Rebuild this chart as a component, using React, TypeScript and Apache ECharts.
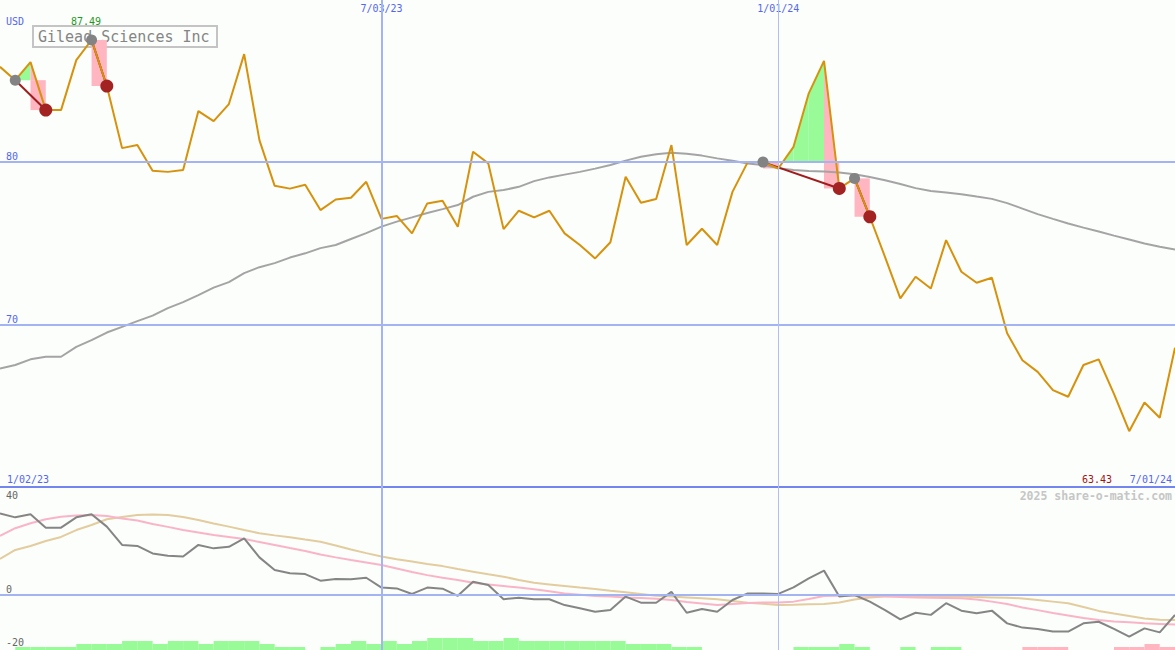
import { useEffect, useRef } from "react";
import * as echarts from "echarts";

// ---- data (weekly, 1/09/23 .. 7/01/24) ----
const price = [
  85.84, 85.02, 86.13, 83.18, 83.18, 86.25, 87.49, 84.66, 80.84, 81.03,
  79.45, 79.38, 79.49, 83.12, 82.5, 83.55, 86.62, 81.33, 78.52, 78.35,
  78.59, 77.03, 77.68, 77.79, 78.77, 76.49, 76.67, 75.6, 77.44, 77.6,
  76.0, 80.62, 79.9, 75.86, 76.99, 76.58, 76.99, 75.6, 74.88, 74.06,
  75.05, 79.08, 77.48, 77.71, 81.03, 74.88, 75.88, 74.88, 78.15, 79.98,
  79.98, 79.59, 80.92, 84.21, 86.21, 78.36, 78.98, 76.62, 74.14, 71.6,
  72.93, 72.21, 75.18, 73.24, 72.56, 72.87, 69.45, 67.8, 67.08, 65.96,
  65.55, 67.5, 67.85, 65.73, 63.43, 65.2, 64.26, 68.56,
];
const movingAvg = [
  67.29, 67.5, 67.85, 68.01, 68.01, 68.62, 69.03, 69.5, 69.85, 70.2,
  70.54, 71.0, 71.37, 71.8, 72.26, 72.6, 73.15, 73.52, 73.77, 74.11,
  74.37, 74.69, 74.88, 75.25, 75.61, 76.01, 76.32, 76.58, 76.85, 77.09,
  77.34, 77.85, 78.15, 78.26, 78.46, 78.81, 79.04, 79.21, 79.38, 79.58,
  79.8, 80.07, 80.31, 80.47, 80.55, 80.49, 80.38, 80.21, 80.06, 79.9,
  79.8, 79.61, 79.49, 79.43, 79.4, 79.34, 79.24, 79.06, 78.87, 78.63,
  78.38, 78.2, 78.11, 78.01, 77.86, 77.72, 77.46, 77.12, 76.78, 76.49,
  76.21, 75.95, 75.71, 75.46, 75.22, 74.97, 74.78, 74.61,
];
const momentum = [
  30.8, 29.3, 30.5, 25.4, 25.4, 29.3, 30.5, 25.8, 18.9, 18.5,
  15.7, 14.8, 14.5, 18.9, 17.6, 18.2, 21.4, 14.2, 9.4, 8.2,
  7.9, 5.4, 6.0, 5.9, 6.5, 2.8, 2.5, 0.4, 2.8, 2.4,
  -0.3, 5.0, 3.8, -1.6, -1.0, -1.6, -1.6, -3.8, -5.0, -6.3,
  -5.7, -0.6, -2.9, -2.9, 1.2, -6.7, -5.3, -6.3, -1.9, 0.6,
  0.6, 0.4, 2.9, 6.3, 9.2, -0.6, 0.0, -2.5, -5.7, -9.2,
  -6.7, -7.5, -3.1, -5.9, -6.9, -5.9, -10.7, -12.3, -12.8, -13.8,
  -13.8, -10.7, -10.1, -12.8, -15.7, -12.6, -14.1, -7.5,
];
const fastLine = [
  22.3, 25.2, 27.1, 28.6, 29.5, 30.0, 30.2, 29.8, 28.9, 28.1,
  26.8, 25.7, 24.5, 23.6, 22.6, 21.9, 21.1, 20.0, 18.9, 17.7,
  16.6, 15.3, 14.2, 13.2, 12.3, 11.3, 10.0, 8.7, 7.5, 6.5,
  5.7, 4.6, 4.0, 3.4, 2.8, 2.2, 1.4, 0.6, 0.1, -0.4,
  -0.6, -0.9, -1.1, -1.4, -1.9, -2.6, -3.2, -3.8, -3.4, -3.0,
  -2.8, -2.8, -2.5, -1.5, -0.4, -0.3, -0.3, -0.3, -0.5, -0.8,
  -0.9, -1.0, -1.1, -1.2, -1.7, -2.5, -3.4, -4.7, -5.7, -6.8,
  -7.7, -8.7, -9.4, -10.0, -10.3, -10.7, -10.9, -11.1,
];
const slowLine = [
  13.6, 17.0, 18.5, 20.4, 21.9, 24.5, 26.4, 28.6, 29.4, 30.2,
  30.4, 30.2, 29.4, 28.3, 27.0, 25.8, 24.5, 23.3, 22.5, 21.8,
  20.9, 20.1, 18.7, 17.2, 15.8, 14.5, 13.5, 12.6, 11.7, 10.9,
  9.8, 8.8, 7.8, 6.9, 5.7, 4.6, 4.0, 3.4, 2.8, 2.3,
  1.6, 1.0, 0.4, -0.3, -0.6, -0.9, -1.2, -1.6, -2.3, -2.9,
  -3.3, -3.8, -3.7, -3.5, -3.4, -2.8, -1.7, -0.9, -0.6, -0.5,
  -0.4, -0.4, -0.6, -0.6, -0.8, -0.9, -1.0, -1.3, -1.9, -2.5,
  -3.1, -4.5, -6.0, -7.0, -7.9, -8.9, -9.3, -9.4,
];
const histogram = [
  0, 1, 1, 1, 1, 2, 2, 2, 3, 3,
  2, 3, 3, 2, 3, 3, 3, 2, 1, 1,
  0, 1, 2, 3, 2, 3, 2, 3, 4, 4,
  4, 3, 3, 4, 3, 3, 3, 3, 3, 3,
  3, 2, 2, 2, 1, 1, 0, 0, 0, 0,
  0, 0, 1, 1, 1, 2, 1, 0, 0, 1,
  0, 1, 1, 0, 0, 0, 0, -1, -1, -1,
  0, 0, 0, -1, -1, -2, -1, 0,
];
const signalStart = [1, 6, 50, 56];
const signalEnd = [3, 7, 55, 57];
const dateTickIndex = [25, 51];
const dateTickLabels = ["7/03/23", "1/01/24"];
const rangeLabels = ["1/02/23", "7/01/24"];
const priceTicks = [70, 80];
const lowerTicks = [-20, 0, 40];
const titleText = "Gilead Sciences Inc";
const currency = "USD";
const credit = "2025 share-o-matic.com";

// ---- styles ----
const MONO = '"DejaVu Sans Mono", "Liberation Mono", monospace';
const BG = "#fbfefb";
const BLUE_TEXT = "#5566ee";
const GRID_BLUE = "#a4b3f2";
const DIVIDER = "#7385ee";
const GREEN = "#98fb98";
const PINK = "#ffb6c1";
const PRICE_COLOR = "#d6920c";
const MA_COLOR = "#a4a4a4";

export default function App() {
  const ref = useRef<HTMLDivElement>(null);

  useEffect(() => {
    const chart = echarts.init(ref.current!, null, { renderer: "svg" });
    const pairs = (arr: number[]) => arr.map((v, i) => [i, v]);
    const maxV = Math.max(...price);
    const minV = Math.min(...price);

    const fillSeries: any = {
      type: "custom",
      xAxisIndex: 0,
      yAxisIndex: 0,
      z: 1,
      silent: true,
      data: signalStart.map((s, k) => [s, price[s], signalEnd[k]]),
      encode: { x: 0, y: 1 },
      renderItem: (_p: any, api: any) => {
        const s = api.value(0);
        const e = api.value(2);
        const L = price[s];
        const children: any[] = [];
        const poly = (pts: number[][], color: string) =>
          children.push({
            type: "polygon",
            shape: { points: pts.map((p) => api.coord(p)) },
            style: { fill: color },
          });
        for (let i = s; i < e; i++) {
          const p0 = price[i];
          const p1 = price[i + 1];
          if (p1 > p0) {
            if (p0 >= L) poly([[i, L], [i, p0], [i + 1, p1], [i + 1, L]], GREEN);
            else if (p1 > L) {
              const t = (L - p0) / (p1 - p0);
              poly([[i + t, L], [i + 1, p1], [i + 1, L]], GREEN);
            }
          } else {
            if (p0 > L) {
              if (p1 >= L) poly([[i, L], [i, p0], [i + 1, p1], [i + 1, L]], PINK);
              else {
                const t = (p0 - L) / (p0 - p1);
                poly([[i, L], [i, p0], [i + t, L]], PINK);
              }
            }
            if (p1 < L) poly([[i, L], [i + 1, L], [i + 1, p1], [i, p1]], PINK);
          }
        }
        return { type: "group", children };
      },
    };

    const histSeries: any = {
      type: "custom",
      xAxisIndex: 1,
      yAxisIndex: 2,
      z: 1,
      silent: true,
      data: pairs(histogram),
      encode: { x: 0, y: 1 },
      renderItem: (_p: any, api: any) => {
        const i = api.value(0);
        const v = api.value(1);
        if (!v) return null;
        const a = api.coord([i, 0]);
        const b = api.coord([i + 1, Math.abs(v)]);
        return {
          type: "rect",
          shape: { x: a[0], y: b[1], width: b[0] - a[0], height: a[1] - b[1] },
          style: { fill: v > 0 ? GREEN : PINK },
        };
      },
    };

    const vLines = [
      { xAxis: dateTickIndex[0], lineStyle: { color: GRID_BLUE, width: 2, type: "solid" } },
      { xAxis: dateTickIndex[1], lineStyle: { color: "#b2bef2", width: 1, type: "solid" } },
    ];

    const signalLines = signalStart.map((s, k) => ({
      type: "line",
      xAxisIndex: 0,
      yAxisIndex: 0,
      z: 3,
      silent: true,
      symbol: "none",
      data: [
        [s, price[s]],
        [signalEnd[k], price[signalEnd[k]]],
      ],
      lineStyle: { color: "#a11c1c", width: 2 },
    }));

    const option: any = {
      animation: false,
      backgroundColor: BG,
      grid: [
        { left: 0, right: 0, top: 0, height: 487 },
        { left: 0, right: 0, top: 487, height: 163 },
      ],
      xAxis: [
        {
          type: "value",
          gridIndex: 0,
          min: 0,
          max: 77,
          position: "top",
          axisLine: { show: false },
          axisTick: { show: false },
          splitLine: { show: false },
          axisLabel: {
            inside: true,
            customValues: dateTickIndex,
            formatter: (v: number) => {
              const k = dateTickIndex.indexOf(v);
              return k >= 0 ? dateTickLabels[k] : "";
            },
            color: BLUE_TEXT,
            fontFamily: MONO,
            fontSize: 10,
            margin: 3,
          },
        },
        {
          type: "value",
          gridIndex: 1,
          min: 0,
          max: 77,
          position: "top",
          axisLine: { show: true, onZero: false, lineStyle: { color: DIVIDER, width: 2 } },
          axisTick: { show: false },
          splitLine: { show: false },
          axisLabel: { show: false },
        },
      ],
      yAxis: [
        {
          type: "value",
          gridIndex: 0,
          min: 60,
          max: 89.95,
          axisLine: { show: false },
          axisTick: { show: false },
          splitLine: { show: false },
          axisLabel: {
            inside: true,
            customValues: priceTicks,
            margin: 6,
            color: BLUE_TEXT,
            fontFamily: MONO,
            fontSize: 10,
            verticalAlign: "bottom",
          },
        },
        {
          type: "value",
          gridIndex: 1,
          min: -20.75,
          max: 40.75,
          axisLine: { show: false },
          axisTick: { show: false },
          splitLine: { show: false },
          axisLabel: {
            inside: true,
            customValues: lowerTicks,
            margin: 6,
            verticalAlign: "middle",
            formatter: (v: number) => (v === Math.max(...lowerTicks) ? `{t|${v}}` : `{n|${v}}`),
            rich: {
              n: { color: "#666", fontFamily: MONO, fontSize: 10, padding: [0, 0, 12, 0] },
              t: { color: "#666", fontFamily: MONO, fontSize: 10, padding: [13, 0, 0, 0] },
            },
          },
        },
        {
          type: "value",
          gridIndex: 1,
          min: 0,
          max: 54.33,
          show: false,
        },
      ],
      graphic: [
        {
          type: "rect",
          z: 0,
          shape: { x: 33, y: 26, width: 184, height: 21 },
          style: { fill: "none", stroke: "#c4c4c4", lineWidth: 2 },
        },
        {
          type: "text",
          z: 0,
          x: 38,
          y: 37,
          style: { text: titleText, fill: "#858585", font: `15px ${MONO}`, align: "left", verticalAlign: "middle" },
        },
        {
          type: "text",
          x: 6,
          y: 21,
          style: { text: currency, fill: BLUE_TEXT, font: `10px ${MONO}`, align: "left", verticalAlign: "middle" },
        },
        {
          type: "text",
          x: 71,
          y: 21,
          style: { text: maxV.toFixed(2), fill: "#1e9a1e", font: `10px ${MONO}`, align: "left", verticalAlign: "middle" },
        },
        {
          type: "text",
          x: 7,
          y: 479,
          style: { text: rangeLabels[0], fill: BLUE_TEXT, font: `10px ${MONO}`, align: "left", verticalAlign: "middle" },
        },
        {
          type: "text",
          x: 1172,
          y: 479,
          style: { text: rangeLabels[1], fill: BLUE_TEXT, font: `10px ${MONO}`, align: "right", verticalAlign: "middle" },
        },
        {
          type: "text",
          x: 1112,
          y: 479,
          style: { text: minV.toFixed(2), fill: "#a31313", font: `10px ${MONO}`, align: "right", verticalAlign: "middle" },
        },
        {
          type: "text",
          x: 1172,
          y: 496,
          style: { text: credit, fill: "#c6c6c6", font: `bold 11.5px ${MONO}`, align: "right", verticalAlign: "middle" },
        },
      ],
      series: [
        fillSeries,
        {
          type: "line",
          xAxisIndex: 0,
          yAxisIndex: 0,
          z: 2,
          silent: true,
          symbol: "none",
          data: pairs(movingAvg),
          lineStyle: { color: MA_COLOR, width: 2 },
          markLine: {
            silent: true,
            symbol: ["none", "none"],
            label: { show: false },
            data: [
              ...priceTicks.map((v) => ({ yAxis: v, lineStyle: { color: GRID_BLUE, width: 2, type: "solid" } })),
              ...vLines,
            ],
          },
        },
        ...signalLines,
        {
          type: "line",
          xAxisIndex: 0,
          yAxisIndex: 0,
          z: 4,
          silent: true,
          symbol: "none",
          data: pairs(price),
          lineStyle: { color: PRICE_COLOR, width: 2 },
        },
        {
          type: "scatter",
          xAxisIndex: 0,
          yAxisIndex: 0,
          z: 5,
          silent: true,
          symbolSize: 11,
          itemStyle: { color: "#838383", opacity: 1 },
          data: signalStart.map((s) => [s, price[s]]),
        },
        {
          type: "scatter",
          xAxisIndex: 0,
          yAxisIndex: 0,
          z: 5,
          silent: true,
          symbolSize: 13,
          itemStyle: { color: "#a32222", opacity: 1 },
          data: signalEnd.map((e) => [e, price[e]]),
        },
        histSeries,
        {
          type: "line",
          xAxisIndex: 1,
          yAxisIndex: 1,
          z: 2,
          silent: true,
          symbol: "none",
          data: pairs(slowLine),
          lineStyle: { color: "#e3cc9e", width: 2 },
          markLine: {
            silent: true,
            symbol: ["none", "none"],
            label: { show: false },
            data: [{ yAxis: 0, lineStyle: { color: GRID_BLUE, width: 2, type: "solid" } }, ...vLines],
          },
        },
        {
          type: "line",
          xAxisIndex: 1,
          yAxisIndex: 1,
          z: 3,
          silent: true,
          symbol: "none",
          data: pairs(fastLine),
          lineStyle: { color: "#f9b4c8", width: 2 },
        },
        {
          type: "line",
          xAxisIndex: 1,
          yAxisIndex: 1,
          z: 4,
          silent: true,
          symbol: "none",
          data: pairs(momentum),
          lineStyle: { color: "#858585", width: 2 },
        },
      ],
    };

    chart.setOption(option);
    return () => chart.dispose();
  }, []);

  return (
    <div
      ref={ref}
      style={{ position: "fixed", left: 0, top: 0, width: 1175, height: 650, background: BG }}
    />
  );
}
